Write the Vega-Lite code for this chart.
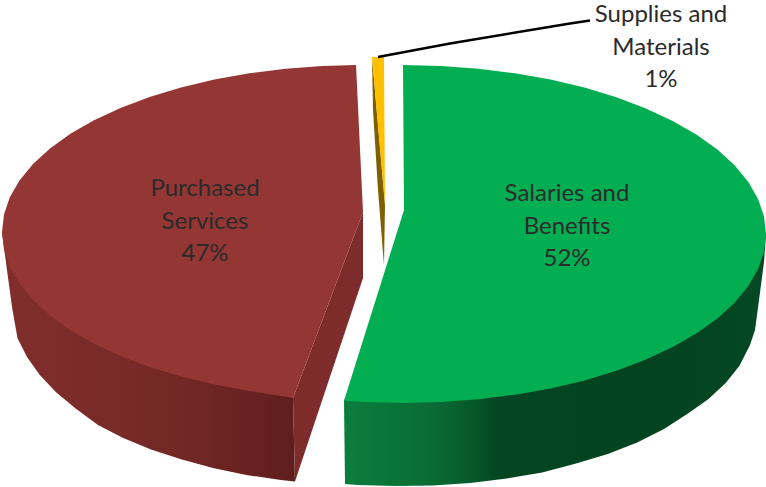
{"$schema":"https://vega.github.io/schema/vega-lite/v6.json","width":766,"height":487,"padding":0,"autosize":"none","background":"#ffffff","view":{"stroke":null},
"config":{"axis":{"disable":true}},
"datasets":{"outline":[
{"part":"red wall","i":0,"x":2,"y":232},{"part":"red wall","i":1,"x":3,"y":240},{"part":"red wall","i":2,"x":7,"y":270},{"part":"red wall","i":3,"x":12,"y":307},{"part":"red wall","i":4,"x":17.5,"y":338.3},{"part":"red wall","i":5,"x":27,"y":356.9},{"part":"red wall","i":6,"x":39.6,"y":374.8},{"part":"red wall","i":7,"x":55.8,"y":392},{"part":"red wall","i":8,"x":75.3,"y":408.2},{"part":"red wall","i":9,"x":97.9,"y":425},{"part":"red wall","i":10,"x":123.2,"y":438},{"part":"red wall","i":11,"x":151,"y":449.5},{"part":"red wall","i":12,"x":181,"y":459.3},{"part":"red wall","i":13,"x":212.9,"y":468.1},{"part":"red wall","i":14,"x":246.3,"y":475},{"part":"red wall","i":15,"x":280.9,"y":480},{"part":"red wall","i":16,"x":295,"y":481.5},{"part":"red wall","i":17,"x":293,"y":398},{"part":"red wall","i":18,"x":200,"y":300},
{"part":"red cut","i":0,"x":363,"y":212},{"part":"red cut","i":1,"x":363,"y":278},{"part":"red cut","i":2,"x":295,"y":481.5},{"part":"red cut","i":3,"x":293,"y":398},
{"part":"red top","i":0,"x":356,"y":65},{"part":"red top","i":1,"x":322.6,"y":65.9},{"part":"red top","i":2,"x":285.6,"y":68.7},{"part":"red top","i":3,"x":249.4,"y":73.2},{"part":"red top","i":4,"x":214.4,"y":79.4},{"part":"red top","i":5,"x":181,"y":87.4},{"part":"red top","i":6,"x":149.6,"y":96.9},{"part":"red top","i":7,"x":120.5,"y":107.9},{"part":"red top","i":8,"x":94,"y":120.3},{"part":"red top","i":9,"x":70.4,"y":133.8},{"part":"red top","i":10,"x":50,"y":148.5},{"part":"red top","i":11,"x":33,"y":164.1},{"part":"red top","i":12,"x":19.5,"y":180.4},{"part":"red top","i":13,"x":9.8,"y":197.3},{"part":"red top","i":14,"x":4,"y":214.5},{"part":"red top","i":15,"x":2,"y":232},{"part":"red top","i":16,"x":4,"y":249.5},{"part":"red top","i":17,"x":9.8,"y":266.7},{"part":"red top","i":18,"x":19.5,"y":283.6},{"part":"red top","i":19,"x":33,"y":299.9},{"part":"red top","i":20,"x":50,"y":315.5},{"part":"red top","i":21,"x":70.4,"y":330.2},{"part":"red top","i":22,"x":94,"y":343.7},{"part":"red top","i":23,"x":120.5,"y":356.1},{"part":"red top","i":24,"x":149.6,"y":367.1},{"part":"red top","i":25,"x":181,"y":376.6},{"part":"red top","i":26,"x":214.4,"y":384.6},{"part":"red top","i":27,"x":249.4,"y":391},{"part":"red top","i":28,"x":293,"y":398},{"part":"red top","i":29,"x":363,"y":212},
{"part":"gold cut","i":0,"x":372,"y":57},{"part":"gold cut","i":1,"x":373,"y":110},{"part":"gold cut","i":2,"x":378,"y":190},{"part":"gold cut","i":3,"x":384,"y":265},{"part":"gold cut","i":4,"x":385,"y":205},
{"part":"gold top","i":0,"x":372,"y":57},{"part":"gold top","i":1,"x":384,"y":57},{"part":"gold top","i":2,"x":385,"y":205},
{"part":"green wall","i":0,"x":766,"y":234},{"part":"green wall","i":1,"x":764,"y":262},{"part":"green wall","i":2,"x":759,"y":300},{"part":"green wall","i":3,"x":755,"y":330},{"part":"green wall","i":4,"x":750,"y":345},{"part":"green wall","i":5,"x":739.3,"y":366},{"part":"green wall","i":6,"x":725.7,"y":383},{"part":"green wall","i":7,"x":708.5,"y":399},{"part":"green wall","i":8,"x":687.9,"y":413.5},{"part":"green wall","i":9,"x":664,"y":429},{"part":"green wall","i":10,"x":637.2,"y":442.5},{"part":"green wall","i":11,"x":607.8,"y":454},{"part":"green wall","i":12,"x":576,"y":463.5},{"part":"green wall","i":13,"x":542.2,"y":472.5},{"part":"green wall","i":14,"x":506.9,"y":478.5},{"part":"green wall","i":15,"x":470.3,"y":483},{"part":"green wall","i":16,"x":432.8,"y":485.5},{"part":"green wall","i":17,"x":395,"y":486},{"part":"green wall","i":18,"x":357.2,"y":485},{"part":"green wall","i":19,"x":345,"y":484},{"part":"green wall","i":20,"x":344,"y":400},{"part":"green wall","i":21,"x":500,"y":300},
{"part":"green top","i":0,"x":403,"y":65},{"part":"green top","i":1,"x":441,"y":66},{"part":"green top","i":2,"x":478.5,"y":68.7},{"part":"green top","i":3,"x":515,"y":73.3},{"part":"green top","i":4,"x":550.6,"y":79.6},{"part":"green top","i":5,"x":584.5,"y":87.6},{"part":"green top","i":6,"x":616.4,"y":97.3},{"part":"green top","i":7,"x":645.9,"y":108.4},{"part":"green top","i":8,"x":672.7,"y":120.9},{"part":"green top","i":9,"x":696.7,"y":134.7},{"part":"green top","i":10,"x":717.4,"y":149.5},{"part":"green top","i":11,"x":734.6,"y":165.3},{"part":"green top","i":12,"x":748.2,"y":181.8},{"part":"green top","i":13,"x":758.1,"y":198.9},{"part":"green top","i":14,"x":764,"y":216.3},{"part":"green top","i":15,"x":766,"y":234},{"part":"green top","i":16,"x":764,"y":251.7},{"part":"green top","i":17,"x":758.1,"y":269.1},{"part":"green top","i":18,"x":748.2,"y":286.2},{"part":"green top","i":19,"x":734.6,"y":302.7},{"part":"green top","i":20,"x":717.4,"y":318.5},{"part":"green top","i":21,"x":696.7,"y":333.3},{"part":"green top","i":22,"x":672.7,"y":347.1},{"part":"green top","i":23,"x":645.9,"y":359.6},{"part":"green top","i":24,"x":616.4,"y":370.7},{"part":"green top","i":25,"x":584.5,"y":380.4},{"part":"green top","i":26,"x":550.6,"y":388.4},{"part":"green top","i":27,"x":515,"y":394.7},{"part":"green top","i":28,"x":478.5,"y":399.3},{"part":"green top","i":29,"x":441,"y":402.1},{"part":"green top","i":30,"x":403,"y":403},{"part":"green top","i":31,"x":365,"y":402.1},{"part":"green top","i":32,"x":344,"y":400.7},{"part":"green top","i":33,"x":404,"y":210},
{"part":"leader","i":0,"x":378,"y":57},{"part":"leader","i":1,"x":450,"y":43.5},{"part":"leader","i":2,"x":570,"y":23.5},{"part":"leader","i":3,"x":590,"y":20.5}
],
"labels":[
{"category":"Salaries and Benefits","share":52,"label":"Salaries and\nBenefits\n52%","x":567,"y":194},
{"category":"Purchased Services","share":47,"label":"Purchased\nServices\n47%","x":205,"y":189},
{"category":"Supplies and Materials","share":1,"label":"Supplies and\nMaterials\n1%","x":661,"y":15}
]},
"encoding":{
"x":{"field":"x","type":"quantitative","scale":{"domain":[0,766],"nice":false,"zero":false}},
"y":{"field":"y","type":"quantitative","scale":{"domain":[487,0],"nice":false,"zero":false}}
},
"layer":[
{"data":{"name":"outline"},"transform":[{"filter":"datum.part==='red wall'"}],"mark":{"type":"line","strokeWidth":0,"fill":{"gradient":"linear","x1":0,"x2":1,"y1":0,"y2":0,"stops":[{"offset":0,"color":"#812e2c"},{"offset":0.35,"color":"#792b29"},{"offset":0.6,"color":"#732826"},{"offset":0.88,"color":"#662120"},{"offset":1,"color":"#5f1e1e"}]}},"encoding":{"order":{"field":"i"}}},
{"data":{"name":"outline"},"transform":[{"filter":"datum.part==='red cut'"}],"mark":{"type":"line","strokeWidth":0,"fill":"#7d2c2b"},"encoding":{"order":{"field":"i"}}},
{"data":{"name":"outline"},"transform":[{"filter":"datum.part==='red top'"}],"mark":{"type":"line","strokeWidth":0,"fill":"#933634"},"encoding":{"order":{"field":"i"}}},
{"data":{"name":"outline"},"transform":[{"filter":"datum.part==='gold cut'"}],"mark":{"type":"line","strokeWidth":0,"fill":"#7f6000"},"encoding":{"order":{"field":"i"}}},
{"data":{"name":"outline"},"transform":[{"filter":"datum.part==='gold top'"}],"mark":{"type":"line","strokeWidth":0,"fill":"#ffc000"},"encoding":{"order":{"field":"i"}}},
{"data":{"name":"outline"},"transform":[{"filter":"datum.part==='green wall'"}],"mark":{"type":"line","strokeWidth":0,"fill":{"gradient":"linear","x1":0,"x2":1,"y1":0,"y2":0,"stops":[{"offset":0,"color":"#0a7e3d"},{"offset":0.2,"color":"#0a6d35"},{"offset":0.3,"color":"#075a2c"},{"offset":0.36,"color":"#044622"},{"offset":0.75,"color":"#03431f"},{"offset":1,"color":"#044824"}]}},"encoding":{"order":{"field":"i"}}},
{"data":{"name":"outline"},"transform":[{"filter":"datum.part==='green top'"}],"mark":{"type":"line","strokeWidth":0,"fill":"#03ae53"},"encoding":{"order":{"field":"i"}}},
{"data":{"name":"outline"},"transform":[{"filter":"datum.part==='leader'"}],"mark":{"type":"line","stroke":"#000000","strokeWidth":2.5},"encoding":{"order":{"field":"i"}}},
{"data":{"name":"labels"},"mark":{"type":"text","font":"Lato","fontSize":24,"lineBreak":"\n","lineHeight":32.5,"align":"center","baseline":"middle","color":"#2b2b2b"},"encoding":{"text":{"field":"label"}}}
]}
